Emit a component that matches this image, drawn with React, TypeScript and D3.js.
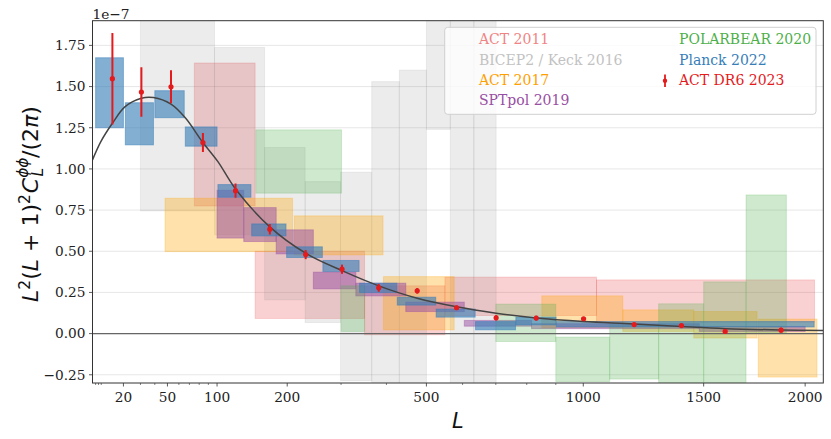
import React from 'react';
import * as d3 from 'd3';

// ---- data (values in units of 1e-7) ----
// boxes: [Lmin, Lmax, low, high]
const act2011Boxes: number[][] = [
  [75, 150, 0.775, 1.643],
  [150, 350, 0.092, 0.5],
  [350, 550, -0.007, 0.29],
  [550, 1050, 0.11, 0.343],
  [1050, 2050, 0.07, 0.326],
];
const bkBoxes: number[][] = [
  [30, 97, 0.745, 2.2],
  [97, 164, 0.6, 1.738],
  [164, 231, 0.205, 1.13],
  [231, 299, 0.067, 0.923],
  [299, 366, -0.286, 0.98],
  [366, 431, -0.4, 1.53],
  [431, 500, -0.4, 1.6],
  [500, 565, 1.24, 2.2],
  [565, 633, -0.4, 2.2],
  [633, 701, -0.4, 2.2],
];
const act2017Boxes: number[][] = [
  [48, 209, 0.498, 0.822],
  [212, 392, 0.478, 0.715],
  [393, 576, 0.023, 0.346],
  [851, 1153, 0.035, 0.229],
  [1153, 1455, 0.013, 0.144],
  [1455, 1754, -0.027, 0.134],
  [1760, 2063, -0.264, 0.088],
];
const sptpolBoxes: number[][] = [
  [100, 134, 0.58, 0.87],
  [134, 182, 0.559, 0.765],
  [182, 246, 0.484, 0.63],
  [246, 331, 0.272, 0.373],
  [331, 447, 0.229, 0.306],
  [447, 605, 0.134, 0.191],
  [605, 816, 0.045, 0.08],
  [816, 1480, 0.03, 0.06],
  [1480, 2000, 0.013, 0.043],
];
const polarbearBoxes: number[][] = [
  [151, 301, 0.853, 1.237],
  [300, 350, 0.013, 0.29],
  [700, 900, -0.048, 0.179],
  [900, 1101, -0.291, -0.021],
  [1101, 1301, -0.276, 0.053],
  [1301, 1500, -0.297, 0.181],
  [1500, 1700, -0.297, 0.314],
  [1700, 1902, 0.003, 0.842],
];
const planckBoxes: number[][] = [
  [8, 20, 1.25, 1.675],
  [21, 39, 1.146, 1.402],
  [40, 65, 1.311, 1.475],
  [66, 100, 1.138, 1.255],
  [101, 144, 0.828, 0.905],
  [145, 198, 0.593, 0.666],
  [199, 263, 0.462, 0.527],
  [264, 338, 0.377, 0.444],
  [339, 425, 0.249, 0.306],
  [426, 525, 0.173, 0.221],
  [526, 637, 0.1, 0.149],
  [638, 763, 0.023, 0.073],
  [764, 901, 0.053, 0.1],
  [902, 2048, 0.04, 0.073],
];
const dr6L = [14.6, 30.6, 53, 84, 123, 172, 232, 302, 382, 476, 583, 701, 832, 1001, 1199, 1400, 1600, 1875];
const dr6Val = [1.548, 1.467, 1.499, 1.16, 0.868, 0.634, 0.48, 0.391, 0.278, 0.26, 0.157, 0.096, 0.094, 0.09, 0.055, 0.049, 0.013, 0.021];
const dr6Err = [0.278, 0.15, 0.1, 0.058, 0.043, 0.032, 0.028, 0.028, 0.024, 0.017, 0.014, 0.016, 0.014, 0.01, 0.01, 0.01, 0.01, 0.015];
const theoryL = [7, 10, 14.6, 20.9, 30.6, 39, 53, 66, 84, 101, 123, 172, 232, 302, 382, 476, 583, 701, 832, 1001, 1199, 1400, 1600, 1875, 2097];
const theoryV = [1.055, 1.17, 1.277, 1.378, 1.429, 1.433, 1.393, 1.31, 1.16, 1.044, 0.878, 0.648, 0.488, 0.382, 0.29, 0.215, 0.163, 0.124, 0.094, 0.073, 0.059, 0.043, 0.03, 0.022, 0.019];
const xMajor = [20, 50, 100, 200, 500, 1000, 1500, 2000];
const xMinor = [8, 9, 10, 30, 40, 60, 70, 80, 90, 300, 400, 600, 700, 800, 900];
const yTicks = [-0.25, 0, 0.25, 0.5, 0.75, 1.0, 1.25, 1.5, 1.75];

const legendCol1 = [
  { label: 'ACT 2011', color: '#f08484' },
  { label: 'BICEP2 / Keck 2016', color: '#c2c2c2' },
  { label: 'ACT 2017', color: '#ffa000' },
  { label: 'SPTpol 2019', color: '#984ea3' },
];
const legendCol2 = [
  { label: 'POLARBEAR 2020', color: '#4daf4a' },
  { label: 'Planck 2022', color: '#377eb8' },
  { label: 'ACT DR6 2023', color: '#e41a1c' },
];

const W = 831;
const H = 439;
const serif = "'DejaVu Serif', serif";
const mathFont = "'DejaVu Sans', sans-serif";

export default function App() {
  const x = d3.scalePow().exponent(0.5).domain([7, 2097]).range([92.5, 823.3]);
  const y = d3.scaleLinear().domain([-0.3, 1.9]).range([383, 20.7]);
  const [x0, x1] = x.range();
  const [y0, y1] = y.range();

  const boxSet = (boxes: number[][], color: string, op: number, key: string) =>
    boxes.map((b, i) => (
      <rect
        key={key + i}
        x={x(b[0])}
        width={x(b[1]) - x(b[0])}
        y={y(b[3])}
        height={y(b[2]) - y(b[3])}
        fill={color}
        fillOpacity={op}
        stroke={color}
        strokeOpacity={op * 0.8}
        strokeWidth={1}
      />
    ));

  const line = d3
    .line<number>()
    .x((_, i) => x(theoryL[i]))
    .y((d) => y(d))
    .curve(d3.curveCatmullRom.alpha(0.5));

  const fmt = (v: number) => (v < 0 ? '\u2212' : '') + Math.abs(v).toFixed(2);

  const red = '#e41a1c';

  return (
    <svg width={W} height={H} style={{ position: 'absolute', left: 0, top: 0 }}>
      <defs>
        <clipPath id="plot">
          <rect x={x0} y={y1} width={x1 - x0} height={y0 - y1} />
        </clipPath>
      </defs>
      <rect x={0} y={0} width={W} height={H} fill="white" />
      {/* grid */}
      {yTicks.map((t) => (
        <line key={'g' + t} x1={x0} x2={x1} y1={y(t)} y2={y(t)} stroke="#b0b0b0" strokeOpacity={0.3} strokeWidth={1} />
      ))}
      <g clipPath="url(#plot)">
        {boxSet(act2011Boxes, '#e41a1c', 0.2, 'a11')}
        {boxSet(bkBoxes, '#808080', 0.15, 'bk')}
        {boxSet(act2017Boxes, '#ffa500', 0.33, 'a17')}
        {boxSet(sptpolBoxes, '#984ea3', 0.5, 'spt')}
        {boxSet(polarbearBoxes, '#4daf4a', 0.27, 'pb')}
        {boxSet(planckBoxes, '#377eb8', 0.62, 'pl')}
        <line x1={x0} x2={x1} y1={y(0)} y2={y(0)} stroke="#666" strokeWidth={1.1} />
        <path d={line(theoryV) || ''} fill="none" stroke="#444" strokeWidth={1.5} />
        {dr6L.map((L, i) => (
          <g key={'p' + i}>
            <line x1={x(L)} x2={x(L)} y1={y(dr6Val[i] - dr6Err[i])} y2={y(dr6Val[i] + dr6Err[i])} stroke={red} strokeWidth={2} />
            <circle cx={x(L)} cy={y(dr6Val[i])} r={2.6} fill={red} />
          </g>
        ))}
      </g>
      {/* spines */}
      <rect x={x0} y={y1} width={x1 - x0} height={y0 - y1} fill="none" stroke="#333" strokeWidth={1} />
      {/* y ticks */}
      {yTicks.map((t) => (
        <g key={'yt' + t}>
          <line x1={x0 - 3.5} x2={x0} y1={y(t)} y2={y(t)} stroke="#333" strokeWidth={0.8} />
          <text x={x0 - 7} y={y(t) + 4.8} textAnchor="end" fontFamily={serif} fontSize={13.7} fill="#222">
            {fmt(t)}
          </text>
        </g>
      ))}
      {/* x ticks */}
      {xMajor.map((t) => (
        <g key={'xt' + t}>
          <line x1={x(t)} x2={x(t)} y1={y0} y2={y0 + 3.5} stroke="#333" strokeWidth={0.8} />
          <text x={x(t)} y={401.7} textAnchor="middle" fontFamily={serif} fontSize={13.7} fill="#222">
            {t}
          </text>
        </g>
      ))}
      {xMinor.map((t) => (
        <line key={'xm' + t} x1={x(t)} x2={x(t)} y1={y0} y2={y0 + 2} stroke="#333" strokeWidth={0.6} />
      ))}
      {/* offset text */}
      <text x={x0} y={19} fontFamily={serif} fontSize={13.7} fill="#222">
        1e{'\u2212'}7
      </text>
      {/* x label */}
      <text x={(x0 + x1) / 2} y={427.5} textAnchor="middle" fontFamily={mathFont} fontStyle="italic" fontSize={21} fill="#111">
        L
      </text>
      {/* y label */}
      <text transform={`translate(38,${204}) rotate(-90)`} textAnchor="middle" fontFamily={mathFont} fontSize={22} fill="#111">
        <tspan fontStyle="italic">L</tspan>
        <tspan fontSize={15.4} dy={-8}>2</tspan>
        <tspan dy={8}>(</tspan>
        <tspan fontStyle="italic">L</tspan>
        <tspan> + 1)</tspan>
        <tspan fontSize={15.4} dy={-8}>2</tspan>
        <tspan fontStyle="italic" dy={8} dx={1}>C</tspan>
        <tspan fontStyle="italic" fontSize={15.4} dy={-10}>ϕϕ</tspan>
        <tspan fontStyle="italic" fontSize={15.4} dx={-19} dy={15}>L</tspan>
        <tspan dx={10} dy={-5}>/(2</tspan>
        <tspan fontStyle="italic">π</tspan>
        <tspan>)</tspan>
      </text>
      {/* legend */}
      <rect x={444.7} y={27.3} width={371.3} height={87} rx={3} fill="white" fillOpacity={0.8} stroke="#d0d0d0" strokeWidth={1} />
      {legendCol1.map((e, i) => (
        <text key={'l1' + i} x={479} y={44.3 + i * 20.3} fontFamily={serif} fontSize={14} fill={e.color}>
          {e.label}
        </text>
      ))}
      {legendCol2.map((e, i) => (
        <text key={'l2' + i} x={679} y={44.3 + i * 20.3} fontFamily={serif} fontSize={14} fill={e.color}>
          {e.label}
        </text>
      ))}
      <line x1={665} x2={665} y1={74.5} y2={87} stroke={red} strokeWidth={1.8} />
      <circle cx={665} cy={80.7} r={2.2} fill={red} />
    </svg>
  );
}
